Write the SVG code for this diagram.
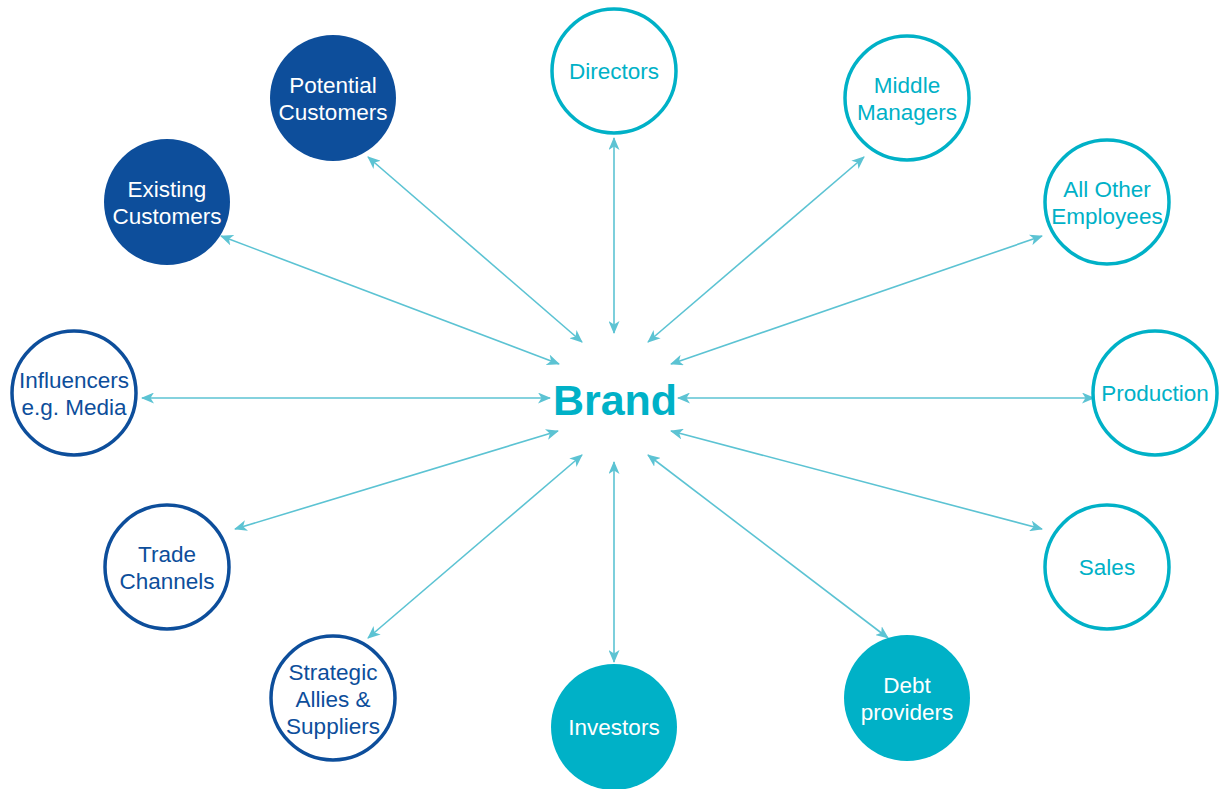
<svg xmlns="http://www.w3.org/2000/svg" width="1219" height="789" viewBox="0 0 1219 789">
<defs>
<style>
.lbl{font-family:'Liberation Sans',Arial,Helvetica,sans-serif;font-size:22.5px;text-anchor:middle}
.db{fill:#0D4E9B}
.tl{fill:#00B1C7}
.wt{fill:#FFFFFF}
.fdb{fill:#0D4E9B;stroke:none}
.ftl{fill:#00B1C7;stroke:none}
.odb{fill:#FFFFFF;stroke:#0D4E9B;stroke-width:3.5}
.otl{fill:#FFFFFF;stroke:#00B1C7;stroke-width:3.5}
.conn line{stroke:#5CC3D3;stroke-width:1.6;marker-start:url(#ah);marker-end:url(#ah)}
</style>
<marker id="ah" viewBox="0 0 13 11" refX="12" refY="5.5" markerWidth="13" markerHeight="11" markerUnits="userSpaceOnUse" orient="auto-start-reverse">
<path d="M0,0 L13,5.5 L0,11 L3.5,5.5 z" fill="#5CC3D3"/>
</marker>
</defs>
<rect width="1219" height="789" fill="#FFFFFF"/>
<g id="connectors" class="conn">
<line x1="614" y1="333" x2="614" y2="138"/>
<line x1="582" y1="342" x2="368" y2="157"/>
<line x1="559" y1="364" x2="221" y2="236"/>
<line x1="550" y1="398" x2="142" y2="398"/>
<line x1="558" y1="431" x2="235" y2="529"/>
<line x1="582" y1="455" x2="368" y2="638"/>
<line x1="614" y1="462" x2="614" y2="662"/>
<line x1="648" y1="455" x2="888" y2="638"/>
<line x1="671" y1="431" x2="1042" y2="529"/>
<line x1="678" y1="398" x2="1094" y2="398"/>
<line x1="671" y1="364" x2="1042" y2="236"/>
<line x1="648" y1="342" x2="864" y2="157"/>
</g>
<g id="brand">
<text x="615" y="415" font-family="'Liberation Sans',Arial,sans-serif" font-size="43" font-weight="bold" text-anchor="middle" fill="#00B1C7">Brand</text>
</g>
<g id="potential-customers">
<circle cx="333" cy="98" r="63" class="fdb"/>
<text class="lbl wt" x="333" y="93">Potential</text>
<text class="lbl wt" x="333" y="120">Customers</text>
</g>
<g id="existing-customers">
<circle cx="167" cy="202" r="63" class="fdb"/>
<text class="lbl wt" x="167" y="197">Existing</text>
<text class="lbl wt" x="167" y="224">Customers</text>
</g>
<g id="influencers">
<circle cx="74" cy="393" r="62" class="odb"/>
<text class="lbl db" x="74" y="388">Influencers</text>
<text class="lbl db" x="74" y="415">e.g. Media</text>
</g>
<g id="trade-channels">
<circle cx="167" cy="567" r="62" class="odb"/>
<text class="lbl db" x="167" y="562">Trade</text>
<text class="lbl db" x="167" y="589">Channels</text>
</g>
<g id="strategic-allies">
<circle cx="333" cy="698" r="62" class="odb"/>
<text class="lbl db" x="333" y="680">Strategic</text>
<text class="lbl db" x="333" y="707">Allies &amp;</text>
<text class="lbl db" x="333" y="734">Suppliers</text>
</g>
<g id="investors">
<circle cx="614" cy="727" r="63" class="ftl"/>
<text class="lbl wt" x="614" y="735">Investors</text>
</g>
<g id="debt-providers">
<circle cx="907" cy="698" r="63" class="ftl"/>
<text class="lbl wt" x="907" y="693">Debt</text>
<text class="lbl wt" x="907" y="720">providers</text>
</g>
<g id="sales">
<circle cx="1107" cy="567" r="62" class="otl"/>
<text class="lbl tl" x="1107" y="575">Sales</text>
</g>
<g id="production">
<circle cx="1155" cy="393" r="62" class="otl"/>
<text class="lbl tl" x="1155" y="401">Production</text>
</g>
<g id="all-other-employees">
<circle cx="1107" cy="202" r="62" class="otl"/>
<text class="lbl tl" x="1107" y="197">All Other</text>
<text class="lbl tl" x="1107" y="224">Employees</text>
</g>
<g id="middle-managers">
<circle cx="907" cy="98" r="62" class="otl"/>
<text class="lbl tl" x="907" y="93">Middle</text>
<text class="lbl tl" x="907" y="120">Managers</text>
</g>
<g id="directors">
<circle cx="614" cy="71" r="62" class="otl"/>
<text class="lbl tl" x="614" y="79">Directors</text>
</g>
</svg>
